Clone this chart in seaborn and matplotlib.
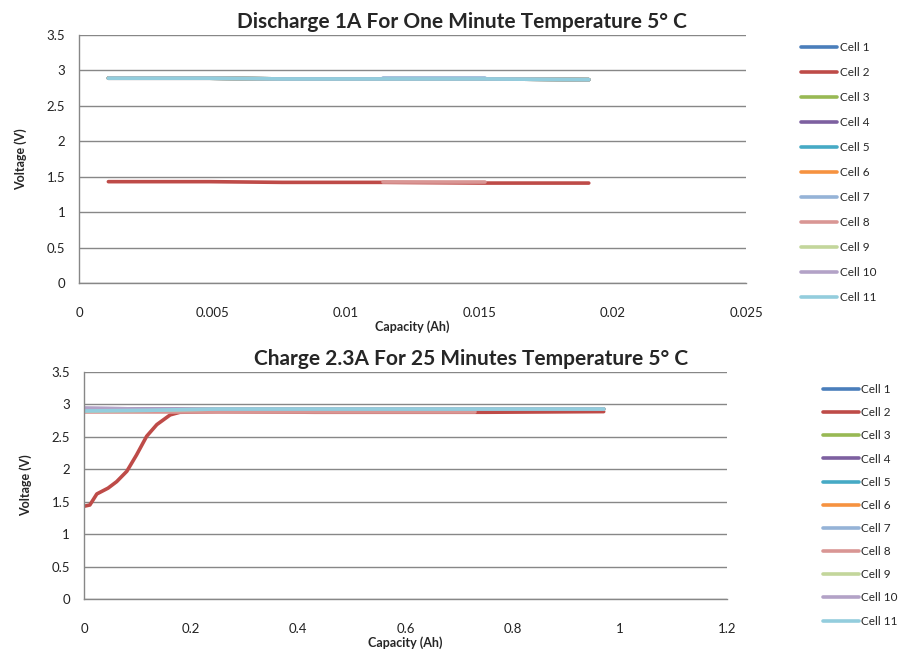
import numpy as np
import pandas as pd
import seaborn as sns
import matplotlib.pyplot as plt
from matplotlib.lines import Line2D

cells = [f"Cell {i}" for i in range(1, 12)]
colors = ["#4A7EBB", "#BE4B48", "#98B954", "#7D60A0", "#46AAC5", "#F69240",
          "#95B3D7", "#D99694", "#C3D69B", "#B3A2C7", "#93CDDD"]

# discharge 1A, one minute
dis_cap = [0.0011, 0.0049, 0.0076, 0.0114, 0.0152, 0.0191]
dis_high = [2.89, 2.89, 2.88, 2.88, 2.88, 2.87]
dis_low = [1.43, 1.43, 1.42, 1.42, 1.41, 1.41]
dis_short_cap = [0.0114, 0.0152]
dis_short_high = [2.89, 2.89]
dis_short_low = [1.42, 1.42]

# charge 2.3A, 25 minutes
chg_cap = [0.0, 0.12, 0.25, 0.5, 0.75, 0.97]
chg_high = [2.90, 2.91, 2.93, 2.93, 2.93, 2.93]
chg_top = [2.94, 2.93, 2.93, 2.93, 2.93, 2.93]
chg_c2_cap = [0.0, 0.011, 0.024, 0.045, 0.061, 0.080, 0.098, 0.117, 0.136,
              0.161, 0.179, 0.25, 0.43, 0.60, 0.75, 0.97]
chg_c2 = [1.43, 1.45, 1.62, 1.71, 1.81, 1.97, 2.22, 2.51, 2.69, 2.84, 2.88,
          2.89, 2.88, 2.88, 2.88, 2.89]
chg_c8_cap = [0.0, 0.12, 0.25, 0.5, 0.73]
chg_c8 = [2.89, 2.89, 2.89, 2.89, 2.89]


def frame(series):
    rows = []
    for cell, caps, volts in series:
        for c, v in zip(caps, volts):
            rows.append({"cell": cell, "cap": c, "volt": v})
    return pd.DataFrame(rows)


dis_series = []
chg_series = []
for name in cells:
    if name == "Cell 2":
        dis_series.append((name, dis_cap, dis_low))
        chg_series.append((name, chg_c2_cap, chg_c2))
    elif name == "Cell 8":
        dis_series.append((name, dis_short_cap, dis_short_low))
        chg_series.append((name, chg_c8_cap, chg_c8))
    elif name == "Cell 7":
        dis_series.append((name, dis_short_cap, dis_short_high))
        chg_series.append((name, chg_cap, chg_high))
    elif name in ("Cell 4", "Cell 10"):
        dis_series.append((name, dis_cap, dis_high))
        chg_series.append((name, chg_cap, chg_top))
    else:
        dis_series.append((name, dis_cap, dis_high))
        chg_series.append((name, chg_cap, chg_high))

df_dis = frame(dis_series)
df_chg = frame(chg_series)

sns.set_theme(style="white")
plt.rcParams["font.family"] = ["Lato", "DejaVu Sans"]

fig = plt.figure(figsize=(8.98, 6.54), dpi=100)
ax1 = fig.add_axes([0.088, 0.5673, 0.743, 0.3792])
ax2 = fig.add_axes([0.0935, 0.0841, 0.716, 0.347])

palette = dict(zip(cells, colors))


def style(ax, xmax, xstep, title, title_x, legend_y, spacing):
    ax.set_ylim(0, 3.5)
    ax.set_xlim(0, xmax)
    ax.set_yticks(np.arange(0, 3.51, 0.5))
    ax.set_yticklabels(["0", "0.5", "1", "1.5", "2", "2.5", "3", "3.5"])
    xt = np.arange(0, xmax + xstep / 2, xstep)
    ax.set_xticks(xt)
    ax.set_xticklabels([f"{v:g}" for v in xt])
    ax.yaxis.grid(True, color="#878787", linewidth=1.0)
    ax.set_axisbelow(True)
    for s in ["top", "right"]:
        ax.spines[s].set_visible(False)
    for s in ["left", "bottom"]:
        ax.spines[s].set_color("#878787")
        ax.spines[s].set_linewidth(1.0)
    ax.tick_params(axis="both", length=0, labelsize=9.5, colors="#222222")
    ax.tick_params(axis="x", pad=17)
    ax.tick_params(axis="y", pad=10)
    ax.set_xlabel("Capacity (Ah)", fontsize=9, fontweight="bold", labelpad=1)
    ax.set_ylabel("Voltage (V)", fontsize=9, fontweight="bold", labelpad=14)
    ax.set_title(title, fontsize=15, fontweight="bold", x=title_x, pad=5)
    handles = [Line2D([], [], color=c, lw=2.6) for c in colors]
    ax.legend(handles, cells, loc="upper left", bbox_to_anchor=legend_y,
              frameon=False, fontsize=8.5, handlelength=3.05,
              handletextpad=0.2, labelspacing=spacing, borderaxespad=0)


sns.lineplot(data=df_dis, x="cap", y="volt", hue="cell", hue_order=cells,
             palette=palette, linewidth=2.6, legend=False, ax=ax1,
             estimator=None, sort=False)
sns.lineplot(data=df_chg, x="cap", y="volt", hue="cell", hue_order=cells,
             palette=palette, linewidth=2.6, legend=False, ax=ax2,
             estimator=None, sort=False)

style(ax1, 0.025, 0.005, "Discharge 1A For One Minute Temperature 5° C",
      0.574, (1.0755, 0.992), 1.19)
style(ax2, 1.2, 0.2, "Charge 2.3A For 25 Minutes Temperature 5° C",
      0.602, (1.142, 0.968), 1.03)

fig.savefig("out.png", dpi=100, facecolor="white")
